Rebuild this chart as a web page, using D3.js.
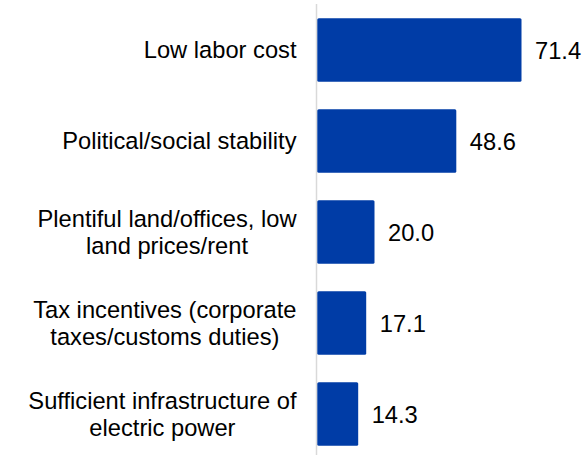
<!DOCTYPE html>
<html><head><meta charset="utf-8">
<script src="https://cdn.jsdelivr.net/npm/d3@7"></script>
<style>body{margin:0;background:#fff}svg{display:block}</style>
</head><body>
<svg id="c" width="586" height="455"></svg>
<script>
const categories = [
  ["Low labor cost"],
  ["Political/social stability"],
  ["Plentiful land/offices, low", "land prices/rent"],
  ["Tax incentives (corporate", "taxes/customs duties)"],
  ["Sufficient infrastructure of", "electric power"]
];
const values = [71.4, 48.6, 20.0, 17.1, 14.3];
const valueLabels = ["71.4", "48.6", "20.0", "17.1", "14.3"];

const svg = d3.select("#c");
const font = "'Liberation Sans', Arial, sans-serif";
const fs = 23.7;
const x0 = 317.3;
const x = d3.scaleLinear().domain([0, 80]).range([x0, x0 + 80 * 2.86]);
const y = d3.scaleBand().domain(d3.range(values.length)).range([4.5, 459.5]).paddingInner(0.3).paddingOuter(0.15);

// axis line
svg.append("line").attr("x1", 316.5).attr("x2", 316.5).attr("y1", 4).attr("y2", 455)
  .attr("stroke", "#d9d9d9").attr("stroke-width", 1.5);

svg.selectAll("rect.bar").data(values).join("rect").attr("class", "bar")
  .attr("x", x(0)).attr("y", (d, i) => y(i))
  .attr("width", d => x(d) - x(0)).attr("height", y.bandwidth())
  .attr("rx", 1.5).attr("fill", "#003ca6");

svg.selectAll("text.val").data(values).join("text").attr("class", "val")
  .attr("x", d => x(d) + 13.5).attr("y", (d, i) => y(i) + y.bandwidth() / 2)
  .attr("dy", "0.37em").attr("font-family", font).attr("font-size", fs).attr("fill", "#000")
  .text((d, i) => valueLabels[i]);

const rightEdge = 296.5;
const lh = 26.5;
categories.forEach((lines, i) => {
  const cy = y(i) + y.bandwidth() / 2;
  const g = svg.append("g");
  const ts = lines.map((l, j) => g.append("text")
    .attr("font-family", font).attr("font-size", fs).attr("fill", "#000")
    .attr("text-anchor", "middle")
    .attr("y", cy + (j - (lines.length - 1) / 2) * lh).attr("dy", "0.35em").text(l));
  const maxW = d3.max(ts, t => t.node().getComputedTextLength());
  ts.forEach(t => t.attr("x", rightEdge - maxW / 2));
});
</script>
</body></html>
